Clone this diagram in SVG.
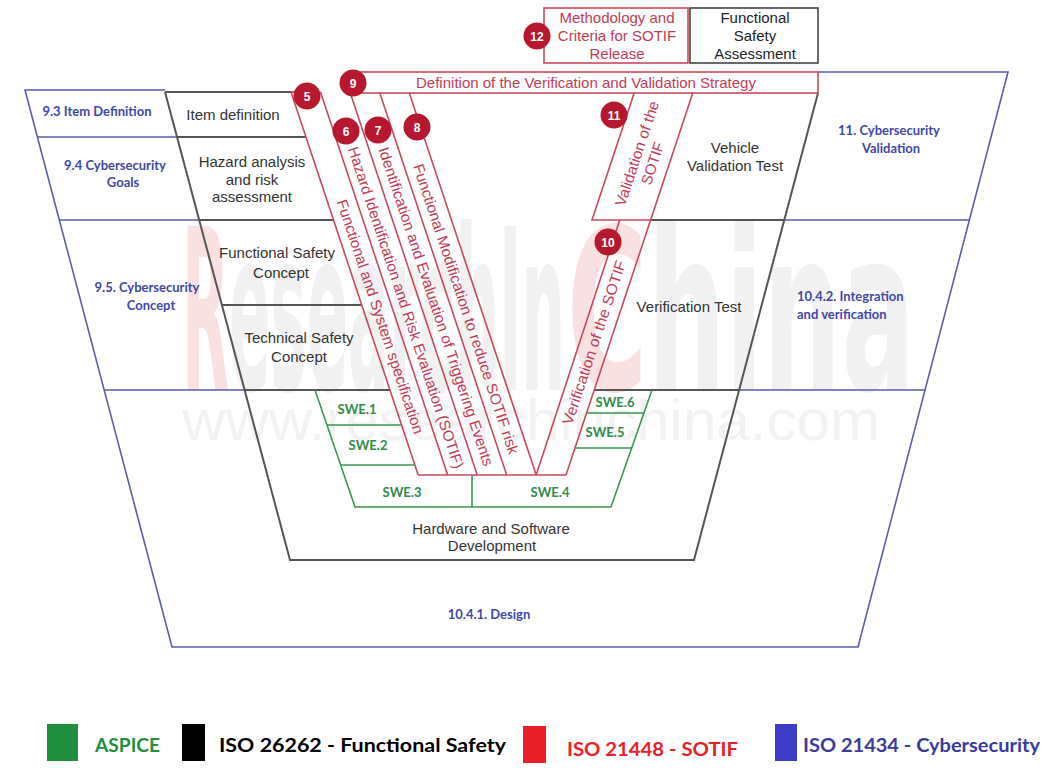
<svg xmlns="http://www.w3.org/2000/svg" width="1058" height="769" viewBox="0 0 1058 769">
<style>
.bl{stroke:#5a5eac;stroke-width:1.6;fill:none}
.bk{stroke:#555;stroke-width:2;fill:none}
.rd{stroke:#c9485d;stroke-width:1.6;fill:none}
.gr{stroke:#3a9758;stroke-width:1.6;fill:none}
.tb{font-family:Lato,"Open Sans",sans-serif;font-weight:bold;font-size:13px;fill:#3f47a8;text-anchor:middle}
.tk{font-family:"Liberation Sans",Arial,sans-serif;font-size:15px;fill:#333;text-anchor:middle}
.tr{font-family:"Liberation Sans",Arial,sans-serif;font-size:15px;fill:#c23b55;text-anchor:middle}
.tg{font-family:Lato,"Open Sans",sans-serif;font-weight:bold;font-size:13px;fill:#2e8b4a;text-anchor:middle}
.num circle{fill:#b5182f}
.num text{font-family:"Liberation Sans",Arial,sans-serif;font-weight:bold;font-size:12px;fill:#fff;text-anchor:middle}
.lg{font-family:Lato,"Open Sans",sans-serif;font-weight:bold;font-size:19px}
.wm{font-family:"Liberation Sans Narrow","DejaVu Sans Condensed","Liberation Sans",sans-serif;font-weight:bold;font-size:225px;fill:#f1f1f1}
</style>
<rect width="1058" height="769" fill="#fff"/>

<g id="watermark">
<text class="wm" x="182" y="390" textLength="383" lengthAdjust="spacingAndGlyphs"><tspan fill="#f9e1e1">R</tspan>esearchIn</text>
<text class="wm" x="567" y="390" textLength="348" lengthAdjust="spacingAndGlyphs"><tspan fill="#f9e1e1">C</tspan>hina</text>
<text x="182" y="440" font-family="'Liberation Sans',Arial,sans-serif" font-size="58" textLength="698" lengthAdjust="spacingAndGlyphs" fill="#f2f2f2">www.researchinchina.com</text>
</g>

<g id="connectors">
<path class="bl" d="M165,90 L25,90 L172,647 L858,647 L1008,72 L818,72"/>
<path class="bl" d="M37,137 H177 M59,220 H199 M104,390 H245 M784,220 H969 M739,390 H925"/>
<path class="bk" d="M165,92 L290,560 L694,560 L818,93"/>
<path class="bk" d="M165,92 H293 M177,137 H306 M199,220 H333.5 M222,305 H361.7 M245,390 H390 M651,220 H784 M594,390 H739"/>
<path class="rd" d="M291,92 L418.2,475 M320.5,92 L447.7,475 M350.3,93 L477.2,475 M379.8,93 L506.7,475 M409.3,93 L536.2,475"/>
<path class="rd" d="M291,92 H320.5 M418.2,475 H566"/>
<path class="rd" d="M536.2,475 L619.7,220 M566,475 L692.8,93"/>
<path class="rd" d="M634.2,93 L592,220 H651"/>
<path class="gr" d="M315,390 L355,507 H611 L652,390"/>
<path class="gr" d="M327,425 H401.6 M340.6,465 H414.8 M472,475 V507 M586.6,413 H644 M575,448 H631.7"/>
</g>

<g id="box-vv-strategy">
<rect x="355" y="72" width="463" height="21" fill="#fff" class="rd"/>
<text class="tr" x="586" y="88">Definition of the Verification and Validation Strategy</text>
</g>
<g id="box-12">
<rect x="544" y="8" width="144" height="55" fill="#fff" class="rd"/>
<text class="tr" x="617" y="23">Methodology and</text>
<text class="tr" x="617" y="41">Criteria for SOTIF</text>
<text class="tr" x="617" y="59">Release</text>
</g>
<g id="box-fsa">
<rect x="690" y="8" width="128" height="55" fill="#fff" stroke="#444" stroke-width="1.6"/>
<text class="tk" x="755" y="23" style="fill:#222">Functional</text>
<text class="tk" x="755" y="41" style="fill:#222">Safety</text>
<text class="tk" x="755" y="59" style="fill:#222">Assessment</text>
</g>

<g id="cyber-labels">
<text class="tb" x="97" y="116">9.3 Item Definition</text>
<text class="tb" x="115" y="170">9.4 Cybersecurity</text>
<text class="tb" x="123" y="187">Goals</text>
<text class="tb" x="147" y="292">9.5. Cybersecurity</text>
<text class="tb" x="151" y="310">Concept</text>
<text class="tb" x="889" y="135">11. Cybersecurity</text>
<text class="tb" x="891" y="153">Validation</text>
<text class="tb" x="797" y="300.5" style="text-anchor:start">10.4.2. Integration</text>
<text class="tb" x="797" y="318.5" style="text-anchor:start">and verification</text>
<text class="tb" x="489" y="619">10.4.1. Design</text>
</g>

<g id="fusa-labels">
<text class="tk" x="233" y="120">Item definition</text>
<text class="tk" x="252" y="167">Hazard analysis</text>
<text class="tk" x="252" y="184.5">and risk</text>
<text class="tk" x="252" y="202">assessment</text>
<text class="tk" x="277" y="258">Functional Safety</text>
<text class="tk" x="281" y="277.5">Concept</text>
<text class="tk" x="299" y="343">Technical Safety</text>
<text class="tk" x="299" y="362">Concept</text>
<text class="tk" x="735" y="153">Vehicle</text>
<text class="tk" x="735" y="171">Validation Test</text>
<text class="tk" x="689" y="312">Verification Test</text>
<text class="tk" x="491" y="534">Hardware and Software</text>
<text class="tk" x="492" y="551">Development</text>
</g>

<g id="sotif-bands">
<text class="tr" transform="translate(380.3,316.5) rotate(71.6)" dy="0.35em" textLength="246" lengthAdjust="spacingAndGlyphs">Functional and System specification</text>
<text class="tr" transform="translate(406,307.5) rotate(71.6)" dy="0.35em" textLength="338" lengthAdjust="spacingAndGlyphs">Hazard Identification and Risk Evaluation (SOTIF)</text>
<text class="tr" transform="translate(436,306.5) rotate(71.6)" dy="0.35em" textLength="335" lengthAdjust="spacingAndGlyphs">Identification and Evaluation of Triggering Events</text>
<text class="tr" transform="translate(466,309) rotate(71.6)" dy="0.35em" textLength="305" lengthAdjust="spacingAndGlyphs">Functional Modification to reduce SOTIF risk</text>
<text class="tr" transform="translate(594,342.5) rotate(-71.6)" dy="0.35em" textLength="172" lengthAdjust="spacingAndGlyphs">Verification of the SOTIF</text>
<text class="tr" transform="translate(637,153.5) rotate(-71.6)" dy="0.35em" textLength="110" lengthAdjust="spacingAndGlyphs">Validation of the</text>
<text class="tr" transform="translate(652.5,163.5) rotate(-71.6)" dy="0.35em">SOTIF</text>
</g>

<g id="aspice-labels">
<text class="tg" x="357" y="414">SWE.1</text>
<text class="tg" x="368" y="450">SWE.2</text>
<text class="tg" x="402" y="497">SWE.3</text>
<text class="tg" x="550" y="497">SWE.4</text>
<text class="tg" x="615" y="407">SWE.6</text>
<text class="tg" x="605" y="437">SWE.5</text>
</g>

<g id="numbers" class="num">
<g id="n5"><circle cx="307" cy="96" r="13.5"/><text x="307" y="100.5">5</text></g>
<g id="n6"><circle cx="346" cy="131" r="13.5"/><text x="346" y="135.5">6</text></g>
<g id="n7"><circle cx="378" cy="130" r="13.5"/><text x="378" y="134.5">7</text></g>
<g id="n8"><circle cx="417" cy="127" r="13.5"/><text x="417" y="131.5">8</text></g>
<g id="n9"><circle cx="353" cy="83" r="13.5"/><text x="353" y="87.5">9</text></g>
<g id="n10"><circle cx="608" cy="242" r="13.5"/><text x="608" y="246.5">10</text></g>
<g id="n11"><circle cx="614" cy="115" r="13.5"/><text x="614" y="119.5">11</text></g>
<g id="n12"><circle cx="537" cy="36" r="13.5"/><text x="537" y="40.5">12</text></g>
</g>

<g id="legend">
<rect x="47" y="724" width="31" height="37" fill="#1f8f3f"/>
<text class="lg" x="95" y="752" fill="#1f8f3f" textLength="65" lengthAdjust="spacingAndGlyphs">ASPICE</text>
<rect x="182" y="724" width="23" height="37" fill="#000"/>
<text class="lg" x="219" y="752" fill="#000" textLength="287" lengthAdjust="spacingAndGlyphs">ISO 26262 - Functional  Safety</text>
<rect x="523" y="726" width="23" height="37" fill="#e8202a"/>
<text class="lg" x="567" y="756" fill="#e8202a" textLength="171" lengthAdjust="spacingAndGlyphs">ISO 21448 - SOTIF</text>
<rect x="775" y="724" width="22" height="37" fill="#3d3dc8"/>
<text class="lg" x="803" y="752" fill="#3a3a9c" textLength="237" lengthAdjust="spacingAndGlyphs">ISO 21434 - Cybersecurity</text>
</g>
</svg>
